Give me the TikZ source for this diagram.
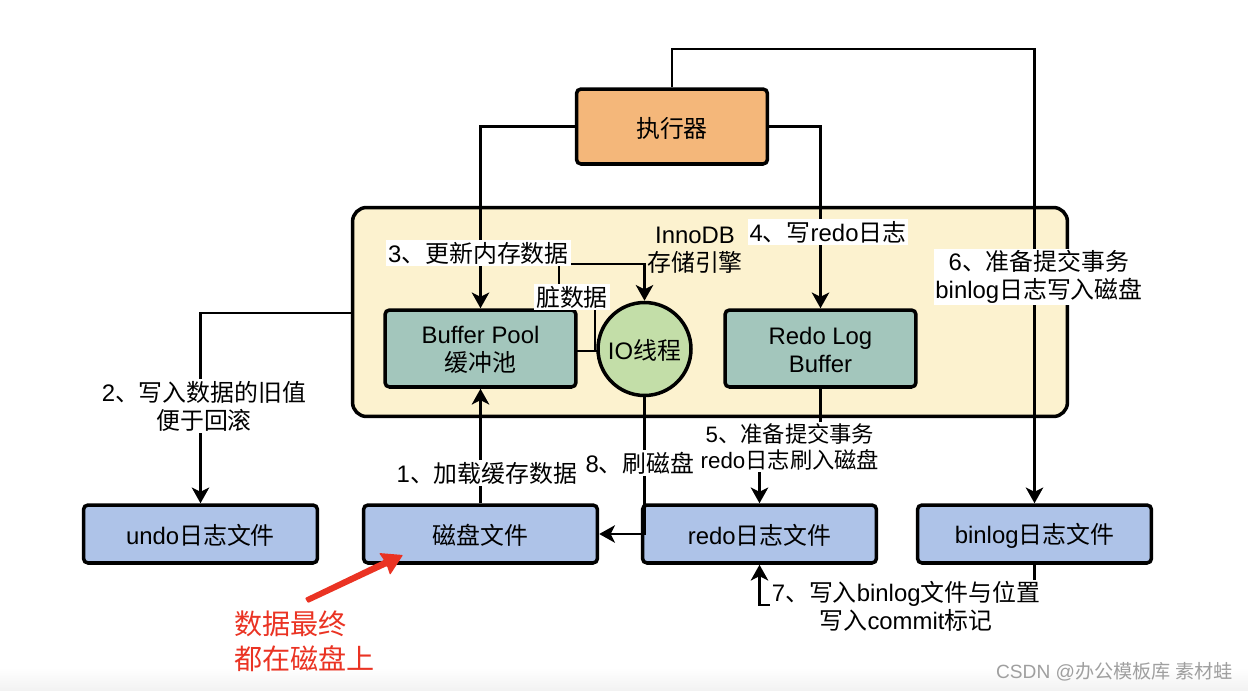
\documentclass[tikz,border=0pt]{standalone}
\usepackage{fontspec}
\setmainfont{Liberation Sans}
\newfontfamily\cjk{Noto Sans CJK SC}
\newcommand{\zh}[1]{{\cjk #1}}
\newcommand{\lowt}[1]{\raisebox{-1pt}[\height][\depth]{#1}}
\usetikzlibrary{arrows.meta}
\definecolor{enginefill}{HTML}{FCF2CF}
\definecolor{execfill}{HTML}{F4B77A}
\definecolor{bufferfill}{HTML}{A3C6BC}
\definecolor{iofill}{HTML}{C3DEA8}
\definecolor{filefill}{HTML}{AEC3E8}
\definecolor{notered}{HTML}{EA3323}
\begin{document}
\begin{tikzpicture}%
[x=0.02cm,y=-0.02cm,
every node/.style={font=\fontsize{13.6}{16}\selectfont, align=center},
boxnode/.style={rectangle,draw=black,line width=2pt,rounded corners=0.09cm,inner sep=0pt},
buffernode/.style={boxnode,fill=bufferfill,minimum width=3.82cm,minimum height=1.54cm},
filenode/.style={boxnode,fill=filefill,minimum width=4.68cm,minimum height=1.16cm},
linetext/.style={fill=white,inner sep=1pt},
conn/.style={line width=1.3pt},
arrowconn/.style={conn,-{Stealth[length=9pt,width=10pt,inset=2.5pt]}}]
\useasboundingbox (0,0) rectangle (1248,690);
\shade [top color=white, bottom color=gray!10] (0,668) rectangle (1248,690);
\node (executor) at (672,126.5) [boxnode, fill=execfill, minimum width=3.82cm, minimum height=1.5cm] {\lowt{\zh{执行器}}};
\node (engine) at (710,312) [boxnode, fill=enginefill, rounded corners=0.28cm, minimum width=14.3cm, minimum height=4.18cm] {};
\node (bufferpool) at (480.5,348.5) [buffernode] {\lowt{Buffer Pool}\\\lowt{\zh{缓冲池}}};
\node (iothread) at (644.5,349) [circle, draw=black, line width=2pt, fill=iofill, minimum size=1.86cm, inner sep=0pt] {\lowt{IO\zh{线程}}};
\node (redobuffer) at (820.5,348.5) [buffernode] {\lowt{Redo Log}\\\lowt{Buffer}};
\node (undofile) at (200.5,534) [filenode] {\lowt{undo\zh{日志文件}}};
\node (diskfile) at (480.5,534) [filenode] {\lowt{\zh{磁盘文件}}};
\node (redofile) at (759.5,534) [filenode] {\lowt{redo\zh{日志文件}}};
\node (binlogfile) at (1034.5,534) [filenode] {\lowt{binlog\zh{日志文件}}};
\coordinate (undostart) at (352,313);
\coordinate (dirtystart) at (577,351);
\coordinate (iowest) at (598,351);
\draw [arrowconn] (executor.north) -- (672,49) -| (binlogfile.north);
\draw [arrowconn] (executor.west) -| (bufferpool.north);
\draw [arrowconn] (executor.east) -| (redobuffer.north);
\draw [arrowconn] (undostart) -| (undofile.north);
\draw [arrowconn] (diskfile.north) -- (bufferpool.south);
\draw [conn] (dirtystart) -- (iowest);
\draw [arrowconn] (dirtystart) -- (595,351) -- (595,297) -- (559,297) -- (559,264) -| (iothread.north);
\draw [arrowconn] (iothread.south) |- (diskfile.east);
\draw [arrowconn] (redobuffer.south) -- (820.5,470) -| (redofile.north);
\draw [arrowconn] (binlogfile.south) -- (1034.5,605) -| (redofile.south);
\node (innodb) at (695,250) [inner sep=0pt] {InnoDB\\\zh{存储引擎}};
\node (stepone) at (487,473) [linetext] {1\zh{、加载缓存数据}};
\node (steptwo) at (204,406) [linetext] {2\zh{、写入数据的旧值}\\\zh{便于回滚}};
\node (stepthree) at (478.5,253) [linetext] {3\zh{、更新内存数据}};
\node (stepfour) at (828,232) [linetext] {4\zh{、写}redo\zh{日志}};
\node (stepfive) at (790,447) [linetext, font=\fontsize{12.7}{15}\selectfont] {5\zh{、准备提交事务}\\redo\zh{日志刷入磁盘}};
\node (stepsix) at (1039,277) [linetext] {6\zh{、准备提交事务}\\binlog\zh{日志写入磁盘}};
\node (stepseven) at (906,606.5) [linetext] {7\zh{、写入}binlog\zh{文件与位置}\\\zh{写入}commit\zh{标记}};
\node (stepeight) at (640,463) [linetext] {8\zh{、刷磁盘}};
\node (dirtydata) at (572,297) [linetext] {\zh{脏数据}};
\fill [notered, rounded corners=0.5pt] (305,598) -- (384,560) -- (379,553) -- (403,555) -- (390,575) -- (387,566) -- (308,603) -- cycle;
\node (notetext) at (228,641.5) [anchor=west, text=notered, align=left, font=\fontsize{16}{20}\selectfont] {\zh{数据最终}\\\zh{都在磁盘上}};
\node (watermark) at (1233,672) [anchor=east, text=gray!75, inner sep=0pt, font=\fontsize{10.9}{13}\selectfont] {CSDN @\zh{办公模板库 素材蛙}};
\end{tikzpicture}
\end{document}
